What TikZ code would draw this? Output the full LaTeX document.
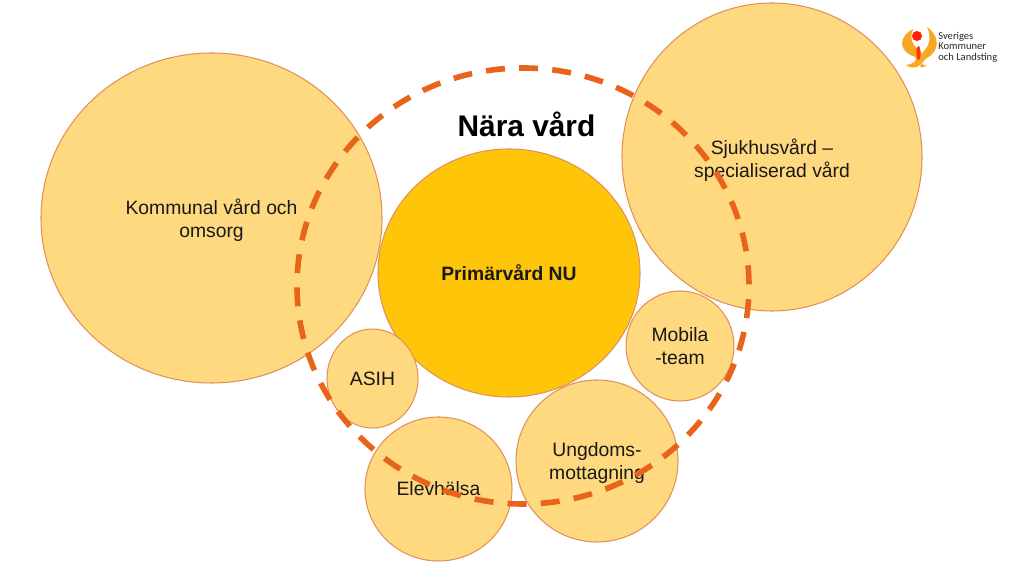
\documentclass[tikz,border=0pt]{standalone}
\usepackage{fontspec}
\setmainfont{Liberation Sans}
\newfontfamily\loggafont{Carlito}
\usetikzlibrary{shapes.geometric}
\definecolor{ljusgul}{HTML}{FFD97F}
\definecolor{kant}{HTML}{E0915A}
\definecolor{primar}{HTML}{FFC508}
\definecolor{streck}{HTML}{E8641B}
\definecolor{logga}{HTML}{F7A823}
\tikzset{
    cirkel/.style={ellipse, draw=kant, fill=ljusgul, line width=0.6pt, inner sep=0pt, align=center, font=\fontsize{11}{13}\selectfont, text=black!90},
    ram/.style={ellipse, draw=streck, line width=3.2pt, dash pattern=on 0.38cm off 0.284cm, dash phase=0.63cm, inner sep=0pt}
}
\begin{document}
\begin{tikzpicture}
    \useasboundingbox (0,0) rectangle (20.48,11.46);

    % Cirklar
    \node[cirkel, minimum width=6.82cm, minimum height=6.60cm] (kommunal) at (4.23,7.10) {\rule{0pt}{11.5pt}Kommunal vård och\\omsorg};
    \node[cirkel, minimum width=6.00cm, minimum height=6.16cm] (sjukhus) at (15.44,8.32) {\rule{0pt}{12.8pt}Sjukhusvård –\\specialiserad vård};
    \node[cirkel, fill=primar, minimum width=5.24cm, minimum height=4.96cm, font=\fontsize{11}{13}\selectfont\bfseries] (primar) at (10.18,6.00) {Primärvård NU};
    \node[cirkel, minimum width=2.16cm, minimum height=2.20cm] (mobila) at (13.60,4.54) {Mobila\\-team};
    \node[cirkel, minimum width=1.82cm, minimum height=1.98cm] (asih) at (7.45,3.89) {ASIH};
    \node[cirkel, minimum width=2.94cm, minimum height=2.88cm] (elev) at (8.77,1.68) {Elevhälsa};
    \node[cirkel, minimum width=3.24cm, minimum height=3.24cm] (ungdom) at (11.94,2.24) {\rule{0pt}{10.5pt}Ungdoms-\\mottagning};

    % Streckad ram
    \node[ram, minimum width=9.04cm, minimum height=8.72cm] (nara) at (10.46,5.74) {};
    \node[font=\fontsize{17}{20}\selectfont\bfseries, text=black] (titel) at (10.53,8.98) {Nära vård};

    % Logotyp
    \fill[logga] (18.26,10.88) .. controls (17.96,10.72) and (17.96,10.44) .. (18.30,10.32) .. controls (18.36,10.26) and (18.28,10.18) .. (18.12,10.16) .. controls (18.20,10.08) and (18.34,10.10) .. (18.40,10.16) .. controls (18.50,10.26) and (18.48,10.40) .. (18.38,10.46) .. controls (18.26,10.54) and (18.18,10.68) .. (18.26,10.88) -- cycle;
    \fill[logga] (18.54,10.92) .. controls (18.80,10.74) and (18.80,10.44) .. (18.54,10.30) .. controls (18.46,10.24) and (18.42,10.18) .. (18.40,10.12) .. controls (18.44,10.10) and (18.50,10.12) .. (18.54,10.16) .. controls (18.40,10.10) and (18.44,10.36) .. (18.46,10.42) .. controls (18.58,10.54) and (18.64,10.70) .. (18.54,10.92) -- cycle;
    \fill[red!75!orange] (18.34,10.74) circle (0.10);
    \fill[red!60!orange] (18.37,10.40) ellipse (0.04 and 0.14);
    \node[anchor=west, inner sep=0pt, align=left, font=\fontsize{6}{6}\selectfont\loggafont, text=black!85] (skl) at (18.76,10.52) {Sveriges\\Kommuner\\och Landsting};
\end{tikzpicture}
\end{document}
